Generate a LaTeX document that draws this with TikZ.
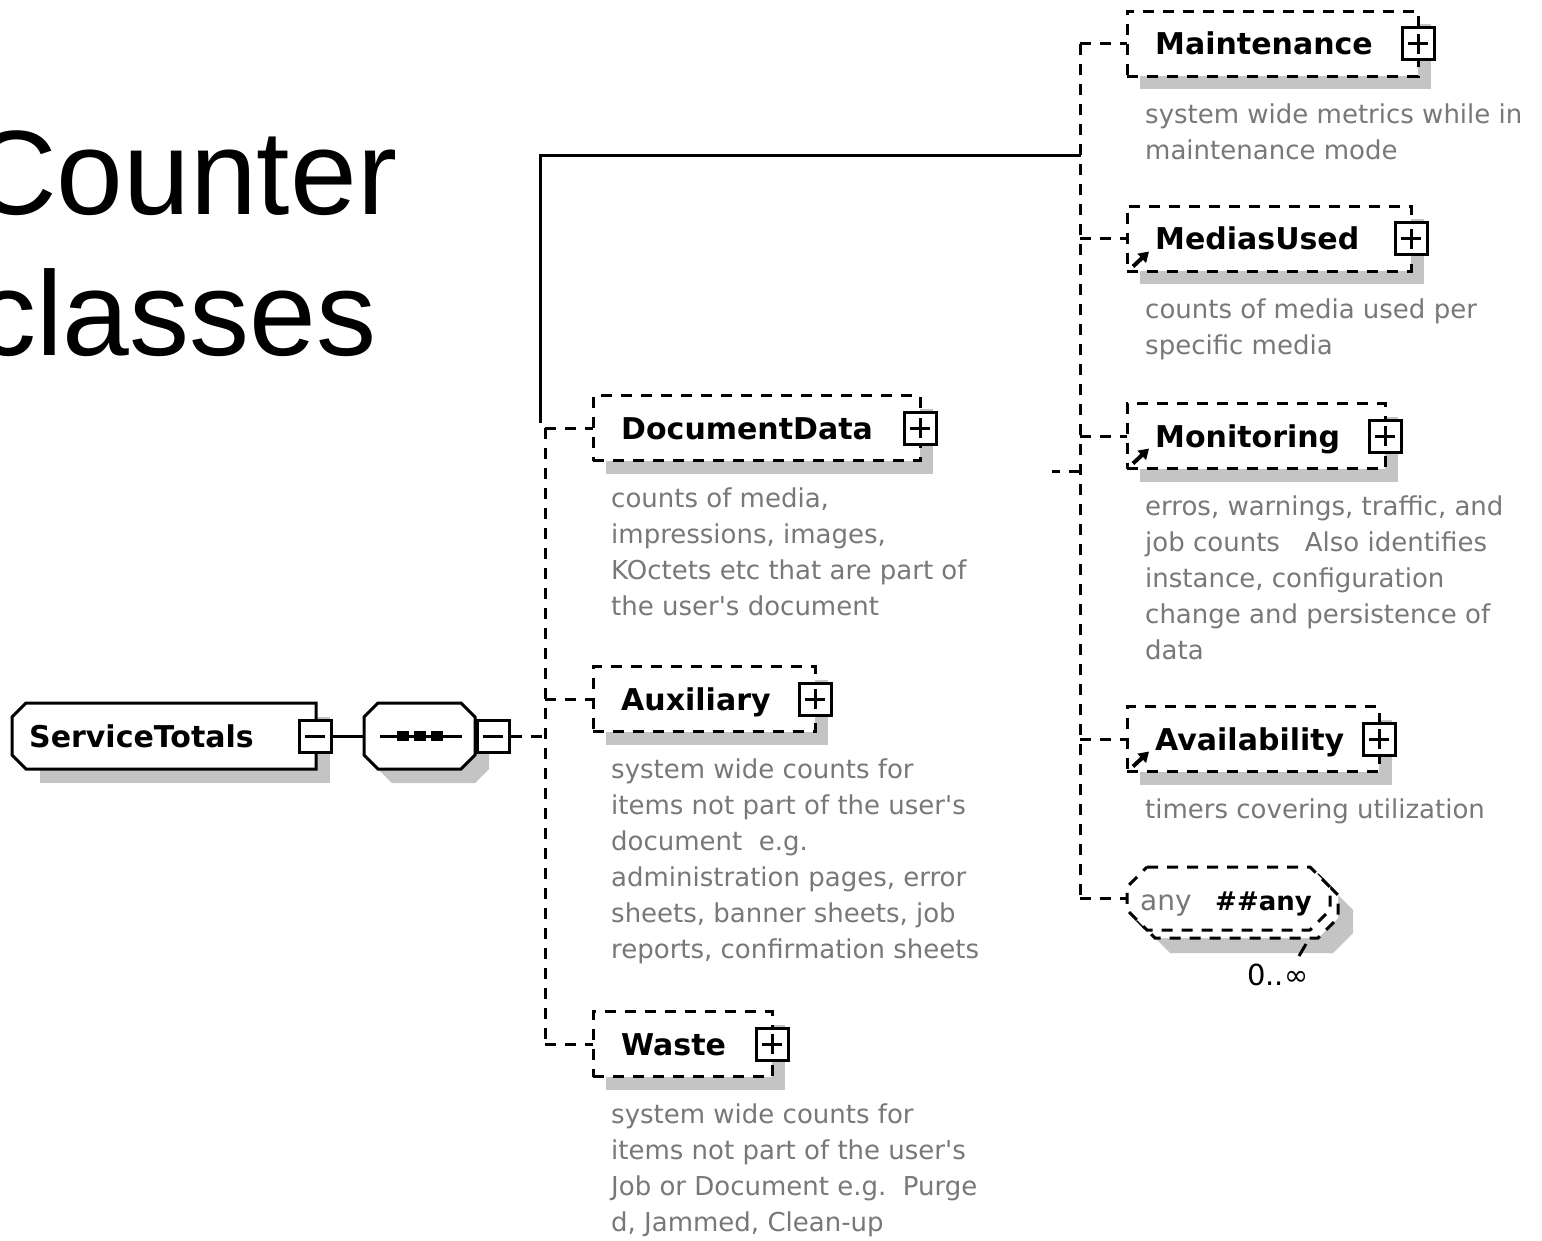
\documentclass[tikz,border=0pt]{standalone}
\usepackage{fontspec}
\usepackage{tikz}
\usetikzlibrary{arrows.meta,positioning}
\newfontfamily\dvsans{DejaVu Sans}
\newfontfamily\slidefont{Liberation Sans}
\definecolor{shadegray}{HTML}{C4C4C4}
\definecolor{descgray}{HTML}{787878}

% chamfered outline: left, top, right, bottom, corner
\newcommand{\chamfpath}[5]{(#1+#5,#2) -- (#3-#5,#2) -- (#3,#2+#5) -- (#3,#4-#5) -- (#3-#5,#4) -- (#1+#5,#4) -- (#1,#4-#5) -- (#1,#2+#5) -- cycle}

\begin{document}
\begin{tikzpicture}[x=1pt, y=-1pt,
  outl/.style={line width=3pt},
  dashedoutl/.style={outl, dash pattern=on 11pt off 9pt},
  conn/.style={line width=3pt, dash pattern=on 11pt off 9pt},
  solidconn/.style={line width=3pt},
  elbox/.style={draw, fill=white, dashedoutl, minimum height=65, inner sep=0, outer sep=0},
  pmbox/.style={draw, fill=white, line width=3pt, minimum size=32, inner sep=0},
  pmline/.style={line width=3pt},
  lbl/.style={font=\dvsans\bfseries\fontsize{30}{36}\selectfont, inner sep=0},
  desc/.style={font=\dvsans\fontsize{26}{36}\selectfont, text=descgray, align=left, inner sep=0},
  slide/.style={font=\slidefont\fontsize{120}{140}\selectfont, inner sep=0},
  refarr/.style={line width=4pt, -{Triangle[length=10pt,width=12pt]}},
]
  % page: 1542 x 1241 px, y runs downwards
  \useasboundingbox[fill=white] (0,0) rectangle (1542,1241);

  % slide title
  \node[slide, anchor=base west] (ttl-a) at (-30,215) {Counter};
  \node[slide, anchor=base west] (ttl-b) at (-24,355) {classes};

  % spines of the two groups
  \coordinate (lspine) at (545,0);
  \coordinate (rspine) at (1080,0);

  % root element ServiceTotals
  \node[inner sep=0, minimum width=304, minimum height=66, anchor=west] (st) at (12,736) {};
  \fill[shadegray] (40,717) rectangle (330,783);
  \draw[outl, fill=white] (26,703) -- (316,703) -- (316,769) -- (26,769)
    -- (12,755) -- (12,717) -- cycle;
  \node[lbl, anchor=base west] (st-lab) at (29,747) {ServiceTotals};
  \node[pmbox] (st-m) at (315,736) {};
  \draw[pmline] ([xshift=-10]st-m.center) -- ([xshift=10]st-m.center);

  % sequence compositor
  \node[inner sep=0, minimum width=111, minimum height=66] (seq) at (419.5,736) {};
  \fill[shadegray] \chamfpath{378}{717}{489}{783}{14};
  \draw[outl, fill=white] \chamfpath{364}{703}{475}{769}{14};
  \draw[outl] (380,736) -- (462,736);
  \foreach \dx in {403,420,437}
    \fill (\dx-6,731) rectangle (\dx+6,741);
  \node[pmbox] (seq-m) at (493,736) {};
  \draw[pmline] ([xshift=-10]seq-m.center) -- ([xshift=10]seq-m.center);

  \draw[solidconn] (st-m.east) -- (seq.west);
  \draw[conn] (seq-m.east) -- (seq-m.east -| lspine);

  % child elements: name / left / right / mid y / label / annotation
  \foreach \nm/\xl/\xr/\yc/\lab/\txt in {
    docdata/593/920/428/DocumentData/{counts of media,\\impressions, images,\\KOctets etc that are part of\\the user's document},
    auxiliary/593/815/699/Auxiliary/{system wide counts for\\items not part of the user's\\document\ \ e.g.\\administration pages, error\\sheets, banner sheets, job\\reports, confirmation sheets},
    waste/593/772/1044/Waste/{system wide counts for\\items not part of the user's\\Job or Document e.g.\ \ Purge\\d, Jammed, Clean-up},
    maint/1127/1418/44/Maintenance/{system wide metrics while in\\maintenance mode},
    mediasused/1127/1411/239/MediasUsed/{counts of media used per\\specific media},
    monitoring/1127/1385/436/Monitoring/{erros, warnings, traffic, and\\job counts\ \ \ Also identifies\\instance, configuration\\change and persistence of\\data},
    availability/1127/1379/739/Availability/{timers covering utilization}} {
    \fill[shadegray] (\xl+13,\yc-19.5) rectangle (\xr+13,\yc+45.5);
    \node[elbox, minimum width=\xr-\xl, anchor=west] (\nm) at (\xl,\yc) {};
    \node[lbl, anchor=base west] (\nm-lab) at (\xl+28,\yc+11) {\lab};
    \node[pmbox] (\nm-pm) at (\nm.east) {};
    \draw[pmline] ([xshift=-10]\nm-pm.center) -- ([xshift=10]\nm-pm.center);
    \draw[pmline] ([yshift=-10]\nm-pm.center) -- ([yshift=10]\nm-pm.center);
    \node[desc, anchor=north west] (\nm-desc) at (\xl+18,\yc+60) {\txt};
  }

  % reference markers
  \foreach \nm in {mediasused,monitoring,availability}
    \draw[refarr] ([shift={(6,-5)}]\nm.south west) -- ++(16,-15);

  % wildcard any ##any, 0..unbounded
  \node[inner sep=0, minimum width=203, minimum height=63] (anyel) at (1228.5,898.5) {};
  \fill[shadegray] \chamfpath{1150}{890}{1353}{953}{20};
  \draw[dashedoutl, fill=white] \chamfpath{1135}{875}{1338}{938}{20};
  \draw[dashedoutl, fill=white] \chamfpath{1127}{867}{1330}{930}{20};
  \node[desc, anchor=base west, font=\dvsans\fontsize{28}{32}\selectfont] (anyel-a) at (1140,910) {any};
  \node[lbl, anchor=base west] (anyel-b) at (1215,910) {\fontsize{26}{30}\selectfont\#\#any};
  \draw[outl] (1306,944) -- (1299,956);
  \node[font=\dvsans\fontsize{29}{32}\selectfont, inner sep=0, anchor=base west] (occ) at (1247,985) {0..∞};

  % connectors into the spines
  \foreach \nm in {docdata,auxiliary,waste}
    \draw[conn] (\nm.west -| lspine) -- (\nm.west);
  \draw[conn] (docdata.west -| lspine) -- (waste.west -| lspine);
  \foreach \nm in {maint,mediasused,monitoring,availability,anyel}
    \draw[conn] (\nm.west -| rspine) -- (\nm.west);
  \draw[conn] (maint.west -| rspine) -- (anyel.west -| rspine);

  % solid link and loose stub
  \coordinate (jfoot) at (540,423);
  \coordinate (jtop) at (1081,156);
  \draw[solidconn] (jfoot) |- (jtop);
  \coordinate (stub) at (1052,471);
  \draw[conn] (stub -| rspine) -- (stub);

\end{tikzpicture}
\end{document}
